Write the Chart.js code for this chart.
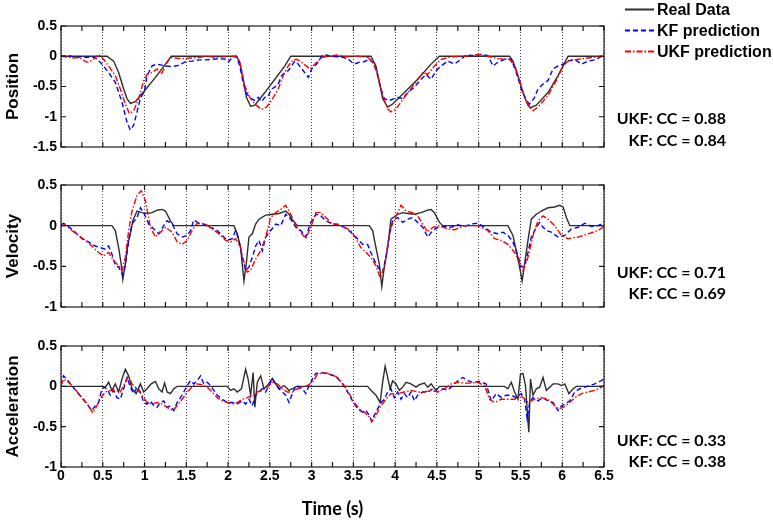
<!DOCTYPE html>
<html>
<head>
<meta charset="utf-8">
<script src="https://cdn.jsdelivr.net/npm/chart.js@4.4.1/dist/chart.umd.min.js"></script>
<style>
  body { margin: 0; background: #fff; }
  #wrap { position: relative; width: 773px; height: 524px; }
  #wrap canvas { position: absolute; left: 0; }
</style>
</head>
<body>
<div id="wrap">
  <canvas id="posChart" width="773" height="165" style="top:0"></canvas>
  <canvas id="velChart" width="773" height="160" style="top:165px"></canvas>
  <canvas id="accChart" width="773" height="199" style="top:325px"></canvas>
</div>
<script>
// ---- Position ----
const posTimeReal = [0, 0.55, 0.63, 0.69, 0.75, 0.79, 0.83, 0.89, 1.0, 1.13, 1.25, 1.32, 2.1, 2.14, 2.18, 2.22, 2.27, 2.32, 2.44, 2.56, 2.68, 2.75, 3.71, 3.77, 3.81, 3.85, 3.91, 3.97, 4.11, 4.27, 4.43, 4.53, 5.37, 5.41, 5.47, 5.53, 5.59, 5.62, 5.69, 5.83, 5.95, 6.07, 6.5];
const posReal = [0, 0, -0.08, -0.27, -0.54, -0.70, -0.78, -0.75, -0.57, -0.35, -0.13, 0, 0, -0.10, -0.38, -0.68, -0.83, -0.81, -0.60, -0.38, -0.16, 0, 0, -0.16, -0.43, -0.70, -0.84, -0.79, -0.60, -0.38, -0.13, 0, 0, -0.08, -0.32, -0.60, -0.81, -0.85, -0.81, -0.60, -0.32, 0, 0];

const posTimeKf = [0, 0.05, 0.1, 0.15, 0.2, 0.25, 0.3, 0.35, 0.41, 0.49, 0.57, 0.65, 0.73, 0.79, 0.83, 0.87, 0.91, 0.95, 1.0, 1.03, 1.09, 1.15, 1.25, 1.33, 1.41, 1.49, 1.57, 1.65, 1.73, 1.81, 1.89, 1.97, 2.01, 2.05, 2.10, 2.14, 2.18, 2.22, 2.28, 2.32, 2.36, 2.40, 2.44, 2.48, 2.52, 2.56, 2.60, 2.64, 2.68, 2.72, 2.76, 2.80, 2.84, 2.90, 2.96, 3.0, 3.06, 3.12, 3.16, 3.22,
  3.35, 3.43, 3.51, 3.57, 3.63, 3.69, 3.75, 3.79, 3.83, 3.87, 3.93, 3.99, 4.03, 4.09, 4.15, 4.23, 4.31, 4.37, 4.43, 4.49, 4.55, 4.63, 4.71, 4.79, 4.85, 4.95, 5.03, 5.11, 5.17, 5.23, 5.31, 5.39, 5.45, 5.51, 5.57, 5.61, 5.67, 5.71, 5.77, 5.83, 5.89, 5.95, 6.01, 6.07, 6.15, 6.23, 6.31, 6.39, 6.45, 6.5];
const posKf = [0.01, 0, 0.01, -0.01, -0.02, 0, -0.02, -0.01, -0.02, -0.13, -0.27, -0.43, -0.76, -1.09, -1.22, -1.14, -0.92, -0.70, -0.57, -0.32, -0.16, -0.13, -0.16, -0.17, -0.15, -0.09, -0.08, -0.06, -0.06, -0.05, -0.04, -0.05, -0.09, -0.01, 0, -0.16, -0.43, -0.62, -0.70, -0.73, -0.68, -0.75, -0.68, -0.66, -0.54, -0.51, -0.46, -0.32, -0.27, -0.24, -0.16, -0.08, -0.13, -0.24, -0.35, -0.21, -0.13, 0, 0.03, 0,
  -0.01, -0.04, -0.13, -0.10, -0.09, -0.05, -0.13, -0.32, -0.54, -0.70, -0.73, -0.70, -0.68, -0.70, -0.60, -0.51, -0.38, -0.30, -0.38, -0.24, -0.16, -0.08, -0.13, -0.05, 0.02, 0.01, 0.03, 0.01, -0.16, -0.10, -0.05, -0.05, -0.27, -0.54, -0.73, -0.79, -0.68, -0.54, -0.46, -0.40, -0.21, -0.16, -0.13, -0.08, -0.05, -0.13, -0.08, -0.06, -0.02, 0.05];

const posTimeUkf = [0, 0.05, 0.1, 0.15, 0.2, 0.25, 0.29, 0.33, 0.37, 0.41, 0.45, 0.48, 0.51, 0.57, 0.65, 0.71, 0.77, 0.82, 0.87, 0.93, 0.99, 1.03, 1.09, 1.15, 1.2, 1.26, 1.31, 1.35, 1.45, 1.55, 1.65, 1.75, 1.85, 1.95, 2.05, 2.12, 2.16, 2.20, 2.26, 2.32, 2.40, 2.46, 2.52, 2.60, 2.66, 2.72, 2.78, 2.82, 2.88, 2.98, 3.04, 3.12, 3.2,
  3.31, 3.43, 3.55, 3.67, 3.73, 3.79, 3.85, 3.91, 3.95, 4.01, 4.11, 4.23, 4.33, 4.39, 4.47, 4.55, 4.67, 4.83, 4.99, 5.11, 5.23, 5.37, 5.43, 5.49, 5.55, 5.61, 5.65, 5.71, 5.83, 5.93, 6.01, 6.07, 6.19, 6.35, 6.5];
const posUkf = [0, -0.01, -0.02, -0.03, -0.02, -0.04, -0.09, -0.10, -0.07, -0.02, 0.03, -0.01, -0.05, -0.16, -0.32, -0.54, -0.79, -0.95, -0.90, -0.70, -0.40, -0.30, -0.27, -0.21, -0.30, -0.13, -0.02, -0.03, -0.04, -0.03, -0.02, 0, -0.02, -0.01, 0, -0.02, -0.21, -0.49, -0.68, -0.79, -0.88, -0.84, -0.73, -0.54, -0.32, -0.16, -0.06, -0.05, -0.10, -0.21, -0.13, -0.02, 0,
  0.02, -0.01, 0, -0.02, -0.08, -0.30, -0.65, -0.87, -0.92, -0.87, -0.68, -0.46, -0.27, -0.30, -0.16, -0.05, -0.01, 0, 0.03, 0, -0.04, -0.05, -0.16, -0.40, -0.68, -0.84, -0.90, -0.84, -0.65, -0.40, -0.16, -0.08, -0.05, -0.02, 0];

// ---- Velocity ----
const velTimeReal = [0, 0.61, 0.65, 0.69, 0.72, 0.74, 0.77, 0.80, 0.83, 0.86, 0.91, 0.97, 1.03, 1.09, 1.15, 1.21, 1.25, 1.31, 1.35, 2.07, 2.11, 2.15, 2.19, 2.22, 2.25, 2.29, 2.33, 2.37, 2.45, 2.53, 2.61, 2.69, 2.73, 2.77, 2.83, 3.69, 3.73, 3.77, 3.81, 3.84, 3.87, 3.91, 3.95, 3.99, 4.03, 4.09, 4.15, 4.23, 4.31, 4.39, 4.43, 4.47, 4.53, 4.57, 5.35, 5.41, 5.45, 5.49, 5.52, 5.55, 5.59, 5.63, 5.69, 5.75, 5.83, 5.91, 5.97, 6.01, 6.05, 6.09, 6.5];
const velReal = [0, 0, -0.06, -0.27, -0.47, -0.66, -0.47, -0.23, -0.10, 0.06, 0.18, 0.16, 0.15, 0.16, 0.19, 0.20, 0.18, 0.06, 0, 0, -0.10, -0.27, -0.68, -0.45, -0.14, -0.10, 0.02, 0.08, 0.13, 0.14, 0.15, 0.18, 0.14, 0.07, 0, 0, -0.06, -0.27, -0.47, -0.75, -0.51, -0.27, 0.08, 0.11, 0.14, 0.16, 0.15, 0.14, 0.16, 0.19, 0.20, 0.16, 0.04, 0, 0, -0.12, -0.31, -0.51, -0.68, -0.47, -0.18, 0.08, 0.14, 0.18, 0.22, 0.23, 0.25, 0.23, 0.10, 0, 0];

const velTimeKf = [0, 0.03, 0.09, 0.17, 0.25, 0.33, 0.41, 0.47, 0.53, 0.57, 0.61, 0.65, 0.69, 0.74, 0.77, 0.81, 0.85, 0.91, 0.95, 0.99, 1.05, 1.11, 1.17, 1.23, 1.27, 1.33, 1.39, 1.45, 1.51, 1.55, 1.59, 1.65, 1.71, 1.77, 1.85, 1.93, 1.99, 2.05, 2.09, 2.13, 2.17, 2.21, 2.25, 2.29, 2.33, 2.37, 2.41, 2.45, 2.51, 2.57, 2.63, 2.69, 2.75, 2.81, 2.87, 2.93, 2.99, 3.05, 3.11, 3.17, 3.25, 3.31, 3.39, 3.47, 3.55, 3.61, 3.67, 3.71, 3.77, 3.81, 3.85, 3.89, 3.93, 3.97, 4.03, 4.09, 4.15, 4.21, 4.27, 4.33, 4.39, 4.45, 4.51, 4.59, 4.67, 4.75, 4.83, 4.91, 4.99, 5.07, 5.15, 5.23, 5.29, 5.35, 5.41, 5.47, 5.51, 5.55, 5.59, 5.63, 5.69, 5.73, 5.77, 5.81, 5.87, 5.95, 6.03, 6.11, 6.19, 6.27, 6.35, 6.43, 6.5];
const velKf = [0.01, 0.03, -0.01, -0.08, -0.16, -0.20, -0.25, -0.27, -0.29, -0.25, -0.35, -0.49, -0.51, -0.61, -0.49, -0.18, 0.02, 0.10, 0.22, 0.16, 0.02, -0.04, -0.10, 0, 0.06, 0.02, -0.10, -0.14, -0.12, -0.06, 0.07, 0.03, 0.02, -0.02, -0.04, -0.12, -0.18, -0.16, -0.06, -0.18, -0.39, -0.55, -0.51, -0.39, -0.25, -0.18, -0.31, -0.14, -0.06, 0.02, 0, 0.14, 0.08, -0.02, -0.06, -0.14, 0.04, 0.14, 0.12, 0.06, 0.02, 0.01, -0.02, -0.08, -0.16, -0.23, -0.23, -0.33, -0.47, -0.53, -0.57, -0.39, -0.12, 0.06, 0.10, 0.04, 0.08, 0.10, 0.04, -0.02, -0.14, -0.06, -0.02, -0.01, -0.02, 0.01, -0.01, 0.02, 0.03, -0.02, -0.08, -0.10, -0.08, -0.12, -0.20, -0.37, -0.51, -0.49, -0.33, -0.14, -0.02, 0.04, -0.02, -0.06, -0.08, -0.14, -0.12, -0.04, -0.02, 0.03, -0.01, 0, 0.04];

const velTimeUkf = [0, 0.05, 0.13, 0.21, 0.29, 0.37, 0.45, 0.51, 0.57, 0.63, 0.69, 0.73, 0.77, 0.81, 0.85, 0.91, 0.96, 1.01, 1.07, 1.13, 1.19, 1.25, 1.33, 1.39, 1.45, 1.51, 1.57, 1.63, 1.73, 1.81, 1.89, 1.97, 2.03, 2.09, 2.15, 2.19, 2.23, 2.27, 2.33, 2.39, 2.45, 2.51, 2.57, 2.63, 2.69, 2.75, 2.81, 2.87, 2.93, 2.99, 3.05, 3.11, 3.17, 3.25, 3.31, 3.39, 3.47, 3.53, 3.59, 3.65, 3.71, 3.77, 3.82, 3.87, 3.91, 3.95, 4.01, 4.07, 4.13, 4.21, 4.27, 4.33, 4.39, 4.45, 4.53, 4.63, 4.71, 4.83, 4.99, 5.11, 5.19, 5.27, 5.35, 5.43, 5.49, 5.53, 5.59, 5.65, 5.71, 5.77, 5.83, 5.91, 5.99, 6.07, 6.19, 6.31, 6.43, 6.5];
const velUkf = [0, 0.01, -0.06, -0.12, -0.18, -0.25, -0.33, -0.37, -0.33, -0.43, -0.49, -0.55, -0.39, -0.06, 0.18, 0.37, 0.43, 0.31, -0.02, -0.14, -0.08, -0.02, -0.08, -0.20, -0.23, -0.18, -0.06, 0.03, 0.02, -0.04, -0.10, -0.18, -0.20, -0.16, -0.27, -0.45, -0.57, -0.55, -0.41, -0.31, -0.14, 0.10, 0.16, 0.20, 0.25, 0.14, 0, -0.08, -0.16, -0.02, 0.16, 0.16, 0.10, 0.02, 0.02, -0.02, -0.06, -0.16, -0.27, -0.33, -0.39, -0.49, -0.64, -0.51, -0.25, -0.02, 0.12, 0.25, 0.18, 0.16, 0.12, 0.02, -0.08, -0.02, 0, -0.04, -0.05, 0, 0, -0.06, -0.16, -0.18, -0.23, -0.33, -0.45, -0.55, -0.39, -0.12, 0.06, 0.12, 0.08, 0, -0.12, -0.16, -0.14, -0.10, -0.06, -0.01];

// ---- Acceleration ----
const accTimeReal = [0, 0.49, 0.53, 0.57, 0.61, 0.65, 0.69, 0.73, 0.77, 0.81, 0.85, 0.90, 0.95, 0.99, 1.03, 1.08, 1.13, 1.17, 1.21, 1.24, 1.27, 1.31, 1.35, 1.39, 1.99, 2.03, 2.07, 2.11, 2.16, 2.21, 2.24, 2.27, 2.30, 2.32, 2.35, 2.39, 2.43, 2.47, 2.53, 2.57, 2.61, 2.67, 2.73, 2.77, 2.82, 3.67, 3.71, 3.77, 3.82, 3.85, 3.88, 3.91, 3.94, 3.97, 4.01, 4.05, 4.09, 4.13, 4.19, 4.25, 4.29, 4.35, 4.39, 4.43, 4.49, 4.53, 5.31, 5.35, 5.39, 5.43, 5.47, 5.50, 5.53, 5.56, 5.58, 5.60, 5.62, 5.65, 5.69, 5.73, 5.77, 5.81, 5.85, 5.89, 5.95, 5.99, 6.03, 6.08, 6.13, 6.17, 6.5];
const accReal = [0, 0, -0.01, 0.05, -0.05, 0.03, -0.07, 0.09, 0.21, 0.13, -0.03, -0.09, 0.03, -0.07, -0.03, 0.03, 0.06, -0.03, -0.07, 0.04, -0.07, -0.09, -0.03, 0, 0, -0.05, -0.03, -0.07, -0.03, 0.21, 0.09, -0.11, 0.17, -0.26, 0.05, 0.13, -0.03, 0.01, 0.10, 0.03, -0.03, 0.01, -0.05, -0.03, 0, 0, -0.05, -0.11, -0.20, 0.05, 0.25, 0.11, -0.03, 0.07, 0.03, -0.05, -0.01, 0.05, 0.03, -0.01, 0.02, 0.04, -0.01, 0.03, -0.05, 0, 0, -0.03, 0.05, -0.07, -0.16, 0.15, 0.16, 0.01, -0.28, -0.57, 0.09, -0.11, -0.03, -0.01, 0.11, -0.05, -0.01, 0.03, 0.03, 0.01, 0.03, -0.09, -0.03, 0, 0];

const accTimeKf = [0, 0.03, 0.07, 0.13, 0.19, 0.25, 0.31, 0.37, 0.41, 0.45, 0.48, 0.51, 0.55, 0.59, 0.63, 0.67, 0.71, 0.75, 0.79, 0.83, 0.87, 0.91, 0.95, 0.99, 1.03, 1.07, 1.11, 1.15, 1.19, 1.23, 1.27, 1.31, 1.35, 1.39, 1.43, 1.47, 1.51, 1.55, 1.59, 1.63, 1.67, 1.71, 1.75, 1.79, 1.83, 1.87, 1.93, 1.99, 2.05, 2.11, 2.17, 2.21, 2.25, 2.29, 2.33, 2.37, 2.41, 2.45, 2.49, 2.53, 2.57, 2.61, 2.65, 2.69, 2.73, 2.77, 2.81, 2.85, 2.89, 2.93, 2.97, 3.01, 3.05, 3.13, 3.21, 3.27,
  3.31, 3.37, 3.43, 3.49, 3.55, 3.61, 3.65, 3.69, 3.72, 3.75, 3.79, 3.83, 3.87, 3.91, 3.95, 3.99, 4.03, 4.07, 4.11, 4.15, 4.19, 4.23, 4.27, 4.33, 4.39, 4.45, 4.51, 4.57, 4.63, 4.69, 4.75, 4.81, 4.87, 4.93, 5.01, 5.09, 5.15, 5.21, 5.27, 5.33, 5.39, 5.45, 5.51, 5.55, 5.58, 5.61, 5.65, 5.71, 5.77, 5.83, 5.89, 5.95, 5.99, 6.03, 6.09, 6.15, 6.21, 6.27, 6.33, 6.39, 6.45, 6.5];
const accKf = [0.01, 0.13, 0.09, 0.01, -0.07, -0.14, -0.22, -0.30, -0.24, -0.20, -0.07, -0.01, -0.03, -0.11, -0.05, -0.14, -0.16, -0.03, 0.11, -0.01, -0.09, -0.01, -0.07, -0.20, -0.22, -0.18, -0.24, -0.26, -0.20, -0.18, -0.26, -0.24, -0.30, -0.20, -0.14, -0.07, 0.01, 0.07, 0.03, 0.07, 0.13, 0.03, 0.05, 0.01, -0.05, -0.11, -0.16, -0.20, -0.20, -0.22, -0.18, -0.22, -0.16, -0.24, -0.11, -0.07, -0.03, -0.07, 0.01, 0.09, 0.03, -0.03, -0.07, -0.11, -0.20, -0.09, 0.01, -0.01, -0.03, -0.09, 0.01, 0.09, 0.16, 0.17, 0.15, 0.13,
  0.10, 0.03, -0.07, -0.18, -0.28, -0.32, -0.30, -0.36, -0.43, -0.36, -0.28, -0.20, -0.16, -0.07, -0.03, -0.14, -0.07, -0.16, -0.09, -0.14, -0.07, -0.18, -0.11, -0.07, -0.07, -0.03, -0.07, -0.03, -0.05, 0.01, 0.07, 0.11, 0.07, 0.05, 0.06, 0.03, -0.18, -0.09, -0.14, -0.11, -0.11, -0.14, -0.09, -0.16, -0.40, -0.20, -0.14, -0.18, -0.14, -0.18, -0.20, -0.30, -0.24, -0.22, -0.18, -0.07, -0.03, -0.01, 0.01, 0.03, 0.06, 0.09];

const accTimeUkf = [0, 0.03, 0.09, 0.15, 0.21, 0.27, 0.33, 0.38, 0.43, 0.48, 0.53, 0.59, 0.65, 0.71, 0.76, 0.81, 0.85, 0.91, 0.97, 1.03, 1.09, 1.15, 1.21, 1.27, 1.34, 1.39, 1.45, 1.51, 1.57, 1.63, 1.69, 1.75, 1.81, 1.87, 1.93, 1.99, 2.05, 2.11, 2.17, 2.23, 2.29, 2.35, 2.41, 2.47, 2.53, 2.59, 2.65, 2.71, 2.77, 2.83, 2.89, 2.95, 3.01, 3.07, 3.15, 3.23,
  3.31, 3.39, 3.45, 3.51, 3.57, 3.63, 3.69, 3.72, 3.77, 3.83, 3.89, 3.95, 4.03, 4.11, 4.19, 4.27, 4.35, 4.43, 4.51, 4.59, 4.67, 4.75, 4.83, 4.91, 4.99, 5.07, 5.13, 5.19, 5.27, 5.35, 5.43, 5.51, 5.59, 5.67, 5.75, 5.83, 5.89, 5.95, 6.01, 6.07, 6.15, 6.23, 6.31, 6.39, 6.47, 6.5];
const accUkf = [0.01, 0.09, 0.05, -0.01, -0.09, -0.16, -0.24, -0.33, -0.24, -0.14, -0.07, -0.05, -0.05, -0.07, 0.03, 0.13, 0.03, -0.03, -0.11, -0.20, -0.22, -0.20, -0.22, -0.26, -0.30, -0.24, -0.16, -0.07, -0.01, 0.03, 0.02, -0.01, -0.07, -0.14, -0.18, -0.20, -0.22, -0.20, -0.16, -0.14, -0.11, -0.07, -0.05, -0.01, 0.05, 0.03, -0.03, -0.07, -0.07, -0.03, -0.01, 0.01, 0.05, 0.15, 0.17, 0.15,
  0.11, 0.01, -0.09, -0.20, -0.28, -0.32, -0.38, -0.44, -0.36, -0.24, -0.16, -0.09, -0.09, -0.07, -0.05, -0.07, -0.07, -0.05, -0.07, -0.03, 0.03, 0.05, 0.04, 0.04, 0.05, 0.01, -0.16, -0.20, -0.16, -0.16, -0.16, -0.12, -0.20, -0.16, -0.14, -0.16, -0.22, -0.28, -0.26, -0.22, -0.14, -0.09, -0.07, -0.05, -0.01, 0.01];

const seriesNames = ["Real Data", "KF prediction", "UKF prediction"];
const ccText = [
  ["UKF: CC = 0.88", "KF: CC = 0.84"],
  ["UKF: CC = 0.71", "KF: CC = 0.69"],
  ["UKF: CC = 0.33", "KF: CC = 0.38"]
];
const timeTicks = { min: 0, max: 6.5, step: 0.5, minor: 0.25 };

const pts = (ts, ys) => ts.map((t, i) => ({ x: t, y: ys[i] }));

const AXIS_FONT = { family: "'Liberation Sans', Arial, sans-serif", weight: 'bold', size: 14 };
const NOTE_FONT = "bold 16px Lato, 'Liberation Sans', sans-serif";

// box + inward ticks like matlab
const framePlugin = {
  id: 'frame',
  afterDatasetsDraw(chart) {
    const { ctx, chartArea: a, scales: { x, y } } = chart;
    ctx.save();
    ctx.strokeStyle = '#1a1a1a';
    ctx.lineWidth = 1.2;
    ctx.setLineDash([]);
    ctx.strokeRect(a.left, a.top, a.right - a.left, a.bottom - a.top);
    ctx.beginPath();
    for (let v = timeTicks.min; v <= timeTicks.max + 1e-9; v += timeTicks.minor) {
      const px = x.getPixelForValue(v);
      ctx.moveTo(px, a.bottom); ctx.lineTo(px, a.bottom - 5);
      ctx.moveTo(px, a.top); ctx.lineTo(px, a.top + 5);
    }
    y.ticks.forEach(t => {
      const py = y.getPixelForValue(t.value);
      ctx.moveTo(a.left, py); ctx.lineTo(a.left + 5, py);
      ctx.moveTo(a.right, py); ctx.lineTo(a.right - 5, py);
    });
    ctx.stroke();
    ctx.restore();
  }
};

// CC text on the right, and the legend for the top panel
const notesPlugin = {
  id: 'notes',
  afterDraw(chart, args, opts) {
    const ctx = chart.ctx;
    ctx.save();
    ctx.fillStyle = '#000';
    ctx.font = NOTE_FONT;
    ctx.textAlign = 'right';
    ctx.textBaseline = 'middle';
    opts.lines.forEach((s, i) => ctx.fillText(s, opts.x, opts.ys[i]));
    if (opts.legend) {
      const L = opts.legend;
      ctx.font = "bold 16px 'Liberation Sans', Arial, sans-serif";
      ctx.textAlign = 'left';
      chart.data.datasets.forEach((ds, i) => {
        const yy = L.y0 + i * L.dy;
        ctx.strokeStyle = ds.borderColor;
        ctx.lineWidth = 2;
        ctx.setLineDash(ds.borderDash || []);
        ctx.beginPath();
        ctx.moveTo(L.x0, yy); ctx.lineTo(L.x1, yy);
        ctx.stroke();
        ctx.fillText(ds.label, L.x1 + 3, yy + 1);
      });
    }
    ctx.restore();
  }
};

function makeChart(id, data, yMin, yTitle, padTop, xHeight, showX, notes) {
  return new Chart(document.getElementById(id), {
    type: 'line',
    data: {
      datasets: [
        { label: seriesNames[0], data: pts(data[0], data[1]), borderColor: '#2e2e2e', borderWidth: 1.4, order: 3 },
        { label: seriesNames[1], data: pts(data[2], data[3]), borderColor: '#0000ff', borderWidth: 1.4, borderDash: [5, 3], order: 2 },
        { label: seriesNames[2], data: pts(data[4], data[5]), borderColor: '#ff0000', borderWidth: 1.4, borderDash: [6, 2, 1.5, 2], order: 1 }
      ]
    },
    options: {
      responsive: false,
      animation: false,
      events: [],
      elements: { point: { radius: 0 }, line: { tension: 0 } },
      layout: { padding: { left: 0, right: 169, top: padTop, bottom: 0 } },
      plugins: { legend: { display: false }, tooltip: { enabled: false }, notes },
      scales: {
        x: {
          type: 'linear',
          min: timeTicks.min,
          max: timeTicks.max,
          afterFit: s => { s.height = xHeight; },
          ticks: { display: showX, stepSize: timeTicks.step, padding: 1, color: '#000', font: AXIS_FONT, maxRotation: 0,
                   callback: v => String(v) },
          grid: { color: '#444', lineWidth: 1, drawTicks: false },
          border: { display: false, dash: [1, 2] },
          title: { display: showX, text: 'Time (s)', color: '#000', padding: { top: 4, bottom: 4 },
                   font: { family: "Lato, 'Liberation Sans', sans-serif", weight: 'bold', size: 18 } }
        },
        y: {
          min: yMin,
          max: 0.5,
          afterFit: s => { s.width = 61; },
          ticks: { stepSize: 0.5, padding: 4, color: '#000', font: AXIS_FONT, callback: v => String(v) },
          grid: { display: false, drawTicks: false },
          border: { display: false },
          title: { display: true, text: yTitle, color: '#000', padding: { top: 3, bottom: 3 },
                   font: { family: "'Liberation Sans', Arial, sans-serif", weight: 'bold', size: 17 } }
        }
      }
    },
    plugins: [framePlugin, notesPlugin]
  });
}

makeChart('posChart', [posTimeReal, posReal, posTimeKf, posKf, posTimeUkf, posUkf], -1.5, 'Position', 26, 18, false,
  { lines: ccText[0], x: 726, ys: [119, 141], legend: { x0: 625, x1: 654, y0: 9.5, dy: 21 } });
makeChart('velChart', [velTimeReal, velReal, velTimeKf, velKf, velTimeUkf, velUkf], -1, 'Velocity', 20, 18, false,
  { lines: ccText[1], x: 726, ys: [108, 129] });
makeChart('accChart', [accTimeReal, accReal, accTimeKf, accKf, accTimeUkf, accUkf], -1, 'Acceleration', 21, 57, true,
  { lines: ccText[2], x: 726, ys: [116, 137] });
</script>
</body>
</html>
